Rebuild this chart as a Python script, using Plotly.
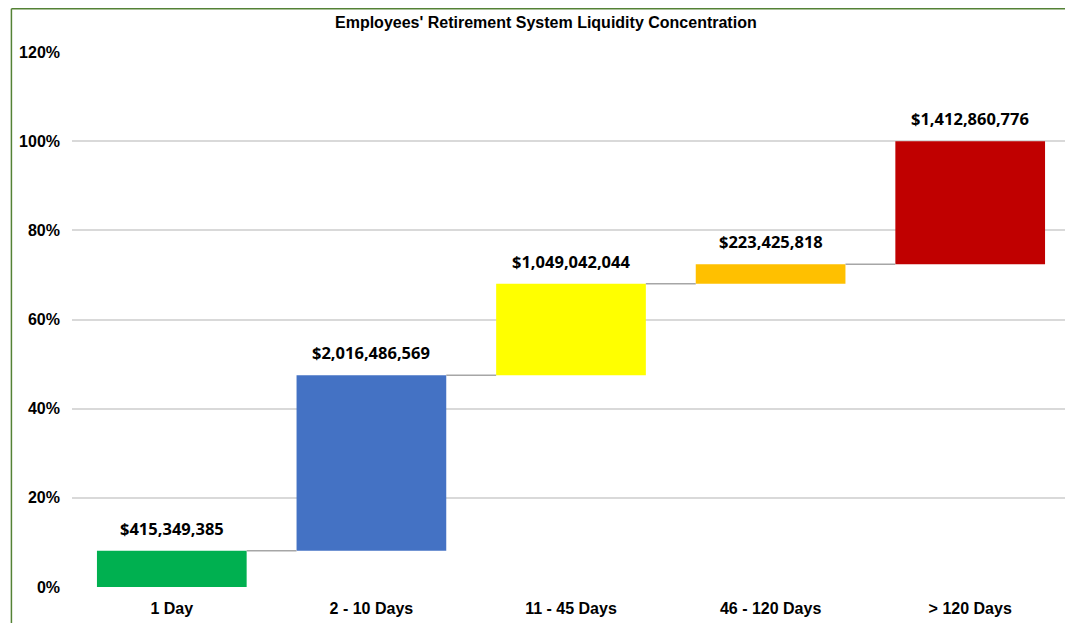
import plotly.graph_objects as go

categories = ["1 Day", "2 - 10 Days", "11 - 45 Days", "46 - 120 Days", "> 120 Days"]
amounts = [415349385, 2016486569, 1049042044, 223425818, 1412860776]
colors = ["#00B050", "#4472C4", "#FFFF00", "#FFC000", "#C00000"]
y_tick_vals = [0, 20, 40, 60, 80, 100, 120]
y_tick_text = ["0%", "20%", "40%", "60%", "80%", "100%", "120%"]
title_text = "Employees' Retirement System Liquidity Concentration"

total = sum(amounts)
pcts = [a / total * 100 for a in amounts]
bases = []
run = 0.0
for p in pcts:
    bases.append(run)
    run += p
tops = [b + p for b, p in zip(bases, pcts)]
xs = list(range(len(categories)))
bar_w = 0.75

fig = go.Figure()
fig.add_trace(go.Bar(
    x=xs, y=pcts, base=bases, width=bar_w,
    marker=dict(color=colors, line=dict(width=0)),
    hoverinfo="skip", showlegend=False,
))

# connectors
for i in range(len(xs) - 1):
    fig.add_trace(go.Scatter(
        x=[xs[i] + bar_w / 2, xs[i + 1] - bar_w / 2],
        y=[tops[i], tops[i]],
        mode="lines", line=dict(color="#A6A6A6", width=1.5),
        hoverinfo="skip", showlegend=False,
    ))

for x, t, a in zip(xs, tops, amounts):
    fig.add_annotation(
        x=x, y=t, text=f"${a:,}", showarrow=False,
        yanchor="bottom", yshift=9,
        font=dict(family="Open Sans", size=16.5, color="#000000", weight="bold"),
    )

fig.add_annotation(
    x=0.475, y=1.0, xref="paper", yref="paper", yshift=30,
    text=f"<b>{title_text}</b>", showarrow=False, yanchor="middle",
    font=dict(family="Liberation Sans", size=16, color="#000000"),
)

# border (left and top visible)
fig.add_shape(type="line", xref="paper", yref="paper",
              x0=-0.0607, x1=-0.0607, y0=-0.2, y1=1.0808,
              line=dict(color="#548235", width=1.5))
fig.add_shape(type="line", xref="paper", yref="paper",
              x0=-0.0607, x1=1.02, y0=1.0808, y1=1.0808,
              line=dict(color="#548235", width=1.5))

fig.update_layout(
    width=1073, height=623,
    margin=dict(l=62, r=11, t=44, b=44),
    paper_bgcolor="white", plot_bgcolor="white",
    xaxis=dict(
        range=[-0.5, 4.5], tickvals=xs, ticktext=[f"<b>{c}</b>" for c in categories],
        showgrid=False, zeroline=False, showline=False, ticks="",
        ticklabelstandoff=10,
        tickfont=dict(family="Liberation Sans", size=16, color="#000000"),
        fixedrange=True,
    ),
    yaxis=dict(
        range=[0, 120], tickvals=y_tick_vals, ticktext=[f"<b>{t}</b>" for t in y_tick_text],
        showgrid=True, gridcolor="#D9D9D9", gridwidth=1.5, zeroline=False,
        showline=False, ticks="", ticklabelstandoff=11,
        tickfont=dict(family="Liberation Sans", size=16, color="#000000"),
        fixedrange=True,
    ),
    bargap=0.25,
)

fig.write_html("out.html")
